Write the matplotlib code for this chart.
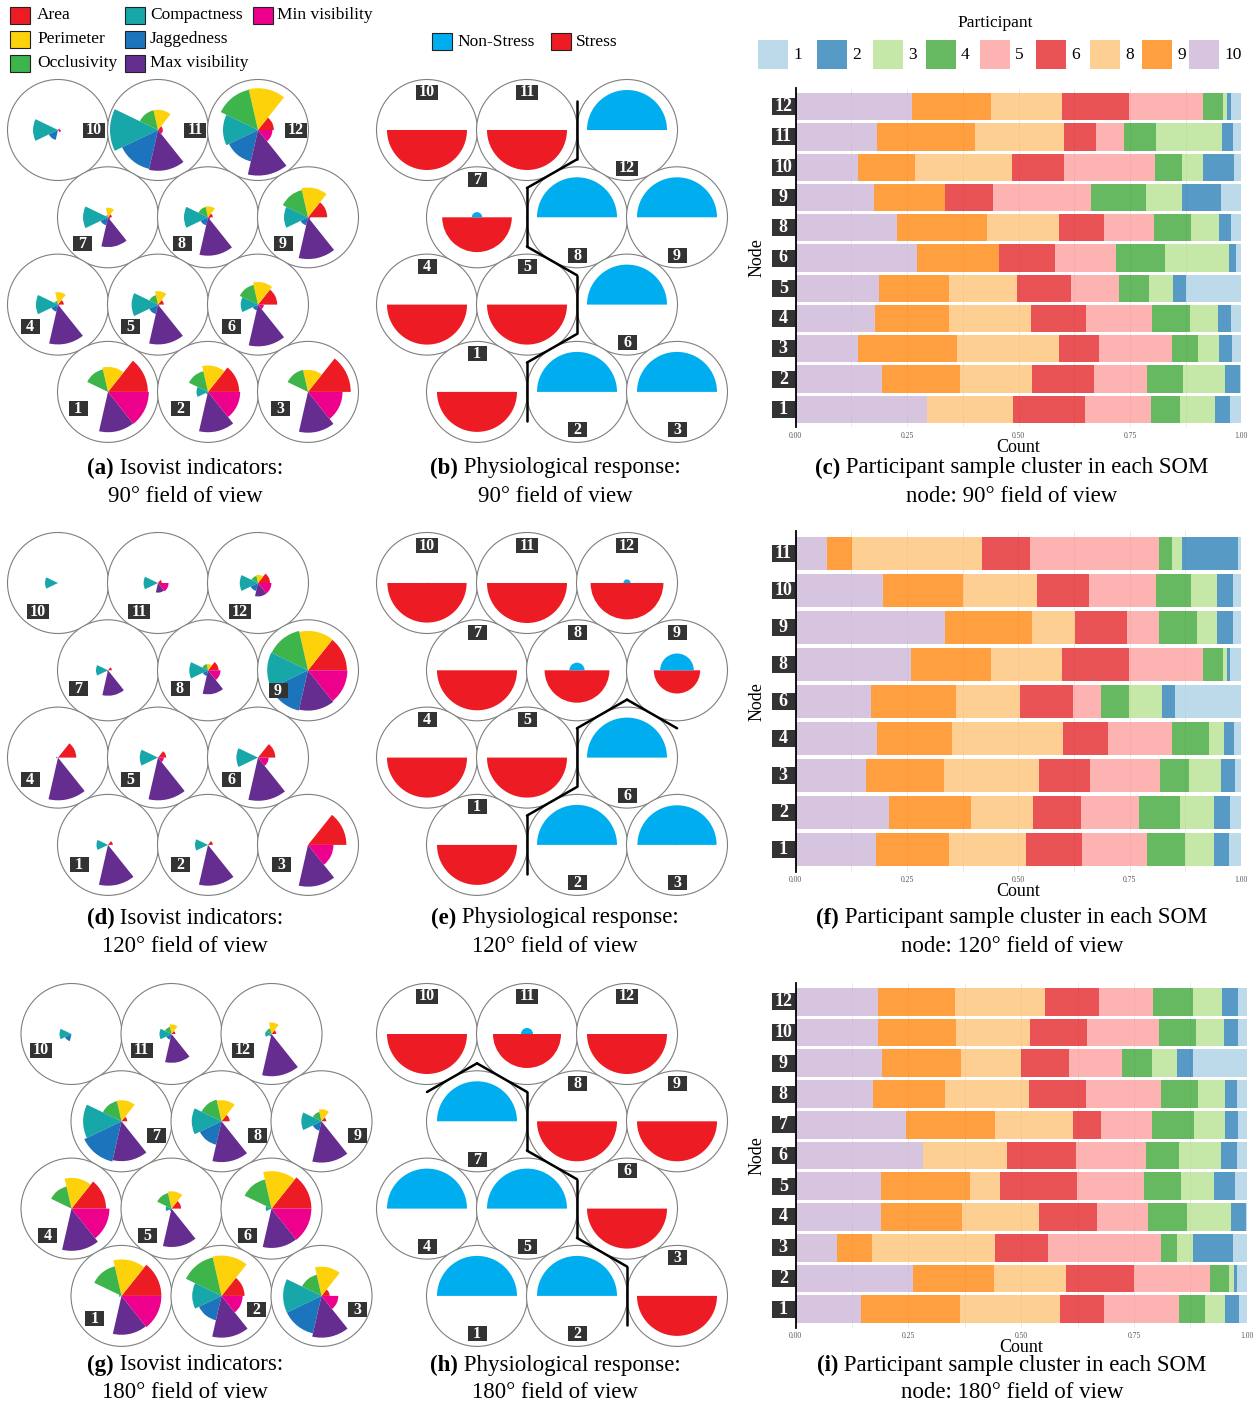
import numpy as np
import matplotlib
matplotlib.use("Agg")
import matplotlib.pyplot as plt
from matplotlib.patches import Circle, Wedge, Rectangle
from matplotlib.collections import LineCollection
from matplotlib.transforms import blended_transform_factory

SERIF = "Liberation Serif"
plt.rcParams["font.family"] = [SERIF, "DejaVu Sans"]

# ---------------------------------------------------------------- data
indicators = ["Area", "Perimeter", "Occlusivity", "Compactness",
              "Jaggedness", "Max visibility", "Min visibility"]
indicator_colors = ["#ED1C24", "#FDD20A", "#3DB54A", "#17A7A8",
                    "#1C75BC", "#662D91", "#EC008C"]

# SOM node arrangement, top row first
som_rows = [[10, 11, 12], [7, 8, 9], [4, 5, 6], [1, 2, 3]]

# normalised isovist indicators per SOM node (order as in `indicators`)
iso_90 = {
    1: [0.83, 0.52, 0.48, 0.00, 0.00, 0.84, 0.85],
    2: [0.65, 0.55, 0.44, 0.24, 0.05, 0.84, 0.67],
    3: [0.89, 0.46, 0.47, 0.00, 0.00, 0.85, 0.72],
    4: [0.12, 0.26, 0.08, 0.46, 0.15, 0.83, 0.03],
    5: [0.12, 0.28, 0.20, 0.55, 0.20, 0.83, 0.03],
    6: [0.40, 0.47, 0.42, 0.36, 0.12, 0.87, 0.12],
    7: [0.08, 0.20, 0.05, 0.52, 0.17, 0.62, 0.05],
    8: [0.10, 0.23, 0.22, 0.50, 0.17, 0.80, 0.05],
    9: [0.40, 0.62, 0.58, 0.50, 0.17, 0.87, 0.05],
    10: [0.04, 0.00, 0.00, 0.52, 0.21, 0.00, 0.06],
    11: [0.10, 0.42, 0.42, 1.00, 0.83, 0.85, 0.10],
    12: [0.33, 0.87, 0.86, 0.73, 0.67, 0.95, 0.30],
}
iso_120 = {
    1: [0.10, 0.00, 0.00, 0.24, 0.00, 0.85, 0.00],
    2: [0.10, 0.00, 0.00, 0.27, 0.00, 0.85, 0.00],
    3: [0.80, 0.00, 0.00, 0.00, 0.00, 0.87, 0.53],
    4: [0.38, 0.00, 0.00, 0.04, 0.00, 0.89, 0.00],
    5: [0.17, 0.00, 0.00, 0.38, 0.00, 0.89, 0.12],
    6: [0.36, 0.00, 0.00, 0.45, 0.00, 0.90, 0.22],
    7: [0.08, 0.00, 0.00, 0.25, 0.03, 0.53, 0.00],
    8: [0.22, 0.13, 0.13, 0.39, 0.12, 0.50, 0.26],
    9: [0.81, 0.82, 0.84, 0.85, 0.86, 0.84, 0.82],
    10: [0.00, 0.00, 0.00, 0.27, 0.00, 0.00, 0.00],
    11: [0.08, 0.00, 0.00, 0.30, 0.00, 0.20, 0.22],
    12: [0.25, 0.17, 0.15, 0.38, 0.17, 0.28, 0.28],
}
iso_180 = {
    1: [0.83, 0.76, 0.63, 0.05, 0.00, 0.81, 0.83],
    2: [0.48, 0.84, 0.82, 0.61, 0.52, 0.87, 0.44],
    3: [0.17, 0.61, 0.45, 0.80, 0.80, 0.87, 0.35],
    4: [0.72, 0.64, 0.47, 0.00, 0.00, 0.88, 0.79],
    5: [0.20, 0.36, 0.33, 0.12, 0.05, 0.80, 0.00],
    6: [0.83, 0.78, 0.62, 0.12, 0.00, 0.82, 0.83],
    7: [0.12, 0.44, 0.43, 0.80, 0.86, 0.83, 0.00],
    8: [0.17, 0.44, 0.46, 0.62, 0.50, 0.85, 0.00],
    9: [0.10, 0.25, 0.20, 0.42, 0.20, 0.86, 0.00],
    10: [0.00, 0.00, 0.00, 0.25, 0.15, 0.00, 0.00],
    11: [0.08, 0.20, 0.15, 0.25, 0.12, 0.60, 0.00],
    12: [0.10, 0.24, 0.12, 0.13, 0.05, 0.88, 0.00],
}

# share of samples labelled "Stress" in each node
stress_90 = {1: 1.0, 2: 0.0, 3: 0.0, 4: 1.0, 5: 1.0, 6: 0.0,
             7: 0.87, 8: 0.0, 9: 0.0, 10: 1.0, 11: 1.0, 12: 0.0}
stress_120 = {1: 1.0, 2: 0.0, 3: 0.01, 4: 1.0, 5: 1.0, 6: 0.0,
              7: 1.0, 8: 0.81, 9: 0.58, 10: 0.99, 11: 1.0, 12: 0.91}
stress_180 = {1: 0.0, 2: 0.0, 3: 1.0, 4: 0.0, 5: 0.0, 6: 1.0,
              7: 0.0, 8: 1.0, 9: 1.0, 10: 1.0, 11: 0.85, 12: 1.0}
stress_colors = {"Non-Stress": "#00AEEF", "Stress": "#ED1C24"}

# participant share within each node (stacking order below)
participants = [1, 2, 3, 4, 5, 6, 8, 9, 10]
participant_colors = {1: "#A6CEE3", 2: "#1F78B4", 3: "#B2DF8A", 4: "#33A02C",
                      5: "#FB9A99", 6: "#E31A1C", 8: "#FDBF6F", 9: "#FF7F00",
                      10: "#CAB2D6"}
stack_order = [10, 9, 8, 6, 5, 4, 3, 2, 1]

share_90 = {
    12: [0.260, 0.179, 0.158, 0.152, 0.166, 0.044, 0.010, 0.007, 0.024],
    11: [0.183, 0.220, 0.198, 0.073, 0.062, 0.073, 0.148, 0.024, 0.019],
    10: [0.139, 0.128, 0.218, 0.116, 0.206, 0.061, 0.046, 0.070, 0.016],
    9: [0.176, 0.160, 0.000, 0.106, 0.220, 0.125, 0.081, 0.087, 0.045],
    8: [0.227, 0.203, 0.162, 0.100, 0.111, 0.084, 0.062, 0.029, 0.022],
    6: [0.273, 0.184, 0.000, 0.124, 0.138, 0.109, 0.144, 0.015, 0.013],
    5: [0.186, 0.159, 0.151, 0.122, 0.107, 0.068, 0.054, 0.029, 0.124],
    4: [0.177, 0.167, 0.184, 0.123, 0.148, 0.085, 0.063, 0.030, 0.023],
    3: [0.139, 0.223, 0.230, 0.088, 0.164, 0.059, 0.048, 0.029, 0.020],
    2: [0.194, 0.175, 0.162, 0.139, 0.118, 0.081, 0.094, 0.035, 0.002],
    1: [0.294, 0.000, 0.194, 0.161, 0.149, 0.065, 0.079, 0.033, 0.025],
}
share_120 = {
    11: [0.070, 0.057, 0.292, 0.107, 0.289, 0.031, 0.021, 0.126, 0.007],
    10: [0.195, 0.181, 0.167, 0.116, 0.149, 0.079, 0.060, 0.034, 0.019],
    9: [0.336, 0.194, 0.097, 0.116, 0.072, 0.086, 0.044, 0.038, 0.017],
    8: [0.260, 0.179, 0.158, 0.152, 0.166, 0.044, 0.010, 0.007, 0.024],
    6: [0.168, 0.191, 0.145, 0.118, 0.064, 0.062, 0.075, 0.029, 0.148],
    4: [0.183, 0.167, 0.250, 0.101, 0.143, 0.085, 0.033, 0.023, 0.015],
    3: [0.157, 0.177, 0.213, 0.115, 0.155, 0.066, 0.073, 0.031, 0.013],
    2: [0.210, 0.184, 0.140, 0.107, 0.131, 0.091, 0.076, 0.036, 0.025],
    1: [0.180, 0.164, 0.173, 0.125, 0.148, 0.084, 0.066, 0.032, 0.028],
}
share_180 = {
    12: [0.182, 0.172, 0.199, 0.120, 0.119, 0.090, 0.064, 0.034, 0.020],
    10: [0.183, 0.172, 0.165, 0.127, 0.159, 0.081, 0.063, 0.030, 0.020],
    9: [0.192, 0.174, 0.134, 0.105, 0.119, 0.066, 0.056, 0.034, 0.120],
    8: [0.171, 0.160, 0.187, 0.125, 0.168, 0.082, 0.058, 0.028, 0.021],
    7: [0.244, 0.199, 0.171, 0.064, 0.111, 0.095, 0.068, 0.028, 0.020],
    6: [0.283, 0.000, 0.185, 0.154, 0.155, 0.073, 0.092, 0.036, 0.022],
    5: [0.189, 0.197, 0.066, 0.171, 0.149, 0.082, 0.074, 0.046, 0.026],
    4: [0.189, 0.179, 0.172, 0.127, 0.115, 0.086, 0.097, 0.034, 0.001],
    3: [0.091, 0.078, 0.274, 0.116, 0.250, 0.037, 0.034, 0.090, 0.030],
    2: [0.261, 0.178, 0.160, 0.151, 0.168, 0.043, 0.010, 0.007, 0.022],
    1: [0.145, 0.219, 0.221, 0.099, 0.166, 0.057, 0.045, 0.031, 0.017],
}

captions = [
    ("(a)", " Isovist indicators:", "90\u00b0 field of view"),
    ("(b)", " Physiological response:", "90\u00b0 field of view"),
    ("(c)", " Participant sample cluster in each SOM", "node: 90\u00b0 field of view"),
    ("(d)", " Isovist indicators:", "120\u00b0 field of view"),
    ("(e)", " Physiological response:", "120\u00b0 field of view"),
    ("(f)", " Participant sample cluster in each SOM", "node: 120\u00b0 field of view"),
    ("(g)", " Isovist indicators:", "180\u00b0 field of view"),
    ("(h)", " Physiological response:", "180\u00b0 field of view"),
    ("(i)", " Participant sample cluster in each SOM", "node: 180\u00b0 field of view"),
]

# ---------------------------------------------------------------- layout
W, H = 1258, 1407
fig = plt.figure(figsize=(W / 100, H / 100), dpi=100)
ax0 = fig.add_axes([0, 0, 1, 1])
ax0.set_xlim(0, W)
ax0.set_ylim(H, 0)
ax0.axis("off")

STEP_X, STEP_Y = 100.0, 87.3
CIRCLE_R = 50.5
ROSE_R = 48.0
SEMI_R = 40.0
BOX_DARK = "#333333"
BAR_ALPHA = 0.75


def node_centres(x0, y0):
    pos = {}
    for r, row in enumerate(som_rows):
        for c, node in enumerate(row):
            pos[node] = (x0 + c * STEP_X + (STEP_X / 2 if r % 2 else 0), y0 + r * STEP_Y)
    return pos


def number_box(x, y, node, w1=19, w2=22, h=15, size=11.5):
    w = w2 if node >= 10 else w1
    ax0.add_patch(Rectangle((x - w / 2, y - h / 2), w, h, fc=BOX_DARK, ec="none", zorder=5))
    ax0.text(x, y + 0.5, str(node), color="white", fontweight="bold", fontsize=size,
             ha="center", va="center", zorder=6)


def draw_circles(pos):
    for node, (cx, cy) in pos.items():
        ax0.add_patch(Circle((cx, cy), CIRCLE_R, fc="white", ec="#7f7f7f", lw=0.8, zorder=1))


def rose_panel(x0, y0, values, offsets):
    pos = node_centres(x0, y0)
    draw_circles(pos)
    n = len(indicators)
    span = 360.0 / n
    for node, (cx, cy) in pos.items():
        for k, v in enumerate(values[node]):
            if v <= 0:
                continue
            # y axis points down, so negative angles run counter-clockwise on screen
            ax0.add_patch(Wedge((cx, cy), v * ROSE_R, -(k + 1) * span, -k * span,
                                fc=indicator_colors[k], ec="none", zorder=2))
        dx, dy = offsets[node]
        number_box(cx + dx, cy + dy, node)


def stress_panel(x0, y0, stress):
    pos = node_centres(x0, y0)
    draw_circles(pos)
    for node, (cx, cy) in pos.items():
        s = stress[node]
        if s > 0:
            ax0.add_patch(Wedge((cx, cy), s * SEMI_R, 0, 180,
                                fc=stress_colors["Stress"], ec="none", zorder=2))
        if 1 - s > 0:
            ax0.add_patch(Wedge((cx, cy), (1 - s) * SEMI_R, 180, 360,
                                fc=stress_colors["Non-Stress"], ec="none", zorder=2))
        number_box(cx, cy + (-38 if s >= 0.5 else 38), node)
    # border between stress and non-stress regions along shared hex edges
    cells = {}
    for r, row in enumerate(som_rows):
        for c, node in enumerate(row):
            cells[(r, c)] = node
    half_edge = STEP_X / np.sqrt(3) / 2
    segs = []
    for (r, c), a in cells.items():
        shift = 1 if r % 2 else 0
        for (r2, c2) in [(r, c + 1), (r + 1, c - 1 + shift), (r + 1, c + shift)]:
            b = cells.get((r2, c2))
            if b is None or (stress[a] >= 0.5) == (stress[b] >= 0.5):
                continue
            p1, p2 = np.array(pos[a]), np.array(pos[b])
            m = (p1 + p2) / 2
            d = (p2 - p1) / np.linalg.norm(p2 - p1)
            perp = np.array([-d[1], d[0]])
            segs.append([m - perp * half_edge, m + perp * half_edge])
    ax0.add_collection(LineCollection(segs, colors="black", linewidths=1.8,
                                      capstyle="round", zorder=4))


def bar_panel(share, left, right, top, bottom):
    ax = fig.add_axes([left / W, 1 - bottom / H, (right - left) / W, (bottom - top) / H])
    nodes = list(share.keys())[::-1]          # node 1 at the bottom
    ypos = np.arange(len(nodes))
    lefts = np.zeros(len(nodes))
    for j, p in enumerate(stack_order):
        vals = np.array([share[n][j] for n in nodes])
        ax.barh(ypos, vals, left=lefts, height=0.9, color=participant_colors[p],
                alpha=BAR_ALPHA, lw=0, zorder=2)
        lefts += vals
    ax.set_xlim(0, 1)
    ax.set_ylim(-0.6, len(nodes) - 0.4)
    ax.set_xticks([0, 0.25, 0.5, 0.75, 1.0])
    ax.set_xticklabels(["0.00", "0.25", "0.50", "0.75", "1.00"])
    ax.set_xticks([0.125, 0.375, 0.625, 0.875], minor=True)
    ax.grid(axis="x", which="both", color="#e6e6e6", lw=0.6, zorder=0)
    ax.set_axisbelow(True)
    ax.tick_params(axis="x", which="both", length=0, labelsize=5.5,
                   labelcolor="#555555", pad=3)
    ax.set_yticks([])
    for s in ["top", "right", "bottom"]:
        ax.spines[s].set_visible(False)
    ax.spines["left"].set_color("black")
    ax.spines["left"].set_linewidth(1.3)
    # node number boxes on the y axis
    tr = blended_transform_factory(ax.transAxes, ax.transData)
    ax_w = right - left
    unit_px = (bottom - top) / (len(nodes) + 0.2)
    bw = 23 / ax_w
    bh = 17 / unit_px
    for y, n in zip(ypos, nodes):
        ax.add_patch(Rectangle((-bw - 0.002, y - bh / 2), bw, bh, transform=tr,
                               fc=BOX_DARK, ec="none", clip_on=False))
        ax.text(-bw / 2 - 0.002, y, str(n), transform=tr, color="white",
                fontweight="bold", fontsize=13, ha="center", va="center", clip_on=False)
    ax0.text(757, (top + bottom) / 2, "Node", rotation=90, fontsize=13,
             ha="center", va="center")
    ax0.text((left + right) / 2, bottom + 20, "Count", fontsize=13,
             ha="center", va="center")
    return ax


# ---------------------------------------------------------------- panels
off_90 = {10: (36, 0), 11: (37, 0), 12: (38, 0), 7: (-26, 26), 8: (-26, 26), 9: (-25, 26),
          4: (-28, 22), 5: (-28, 22), 6: (-27, 22), 1: (-30, 17), 2: (-28, 17), 3: (-28, 17)}
off_120 = {10: (-20, 28), 11: (-19, 28), 12: (-18, 28), 7: (-30, 18), 8: (-28, 18), 9: (-30, 20),
           4: (-28, 22), 5: (-28, 22), 6: (-27, 22), 1: (-29, 20), 2: (-28, 20), 3: (-27, 20)}
off_180 = {10: (-31, 16), 11: (-30, 16), 12: (-29, 16), 7: (35, 14), 8: (36, 14), 9: (36, 14),
           4: (-24, 27), 5: (-24, 27), 6: (-24, 27), 1: (-27, 23), 2: (35, 14), 3: (36, 14)}

rose_panel(58, 130, iso_90, off_90)
rose_panel(58, 583, iso_120, off_120)
rose_panel(71.5, 1034, iso_180, off_180)

stress_panel(427, 130, stress_90)
stress_panel(427, 583, stress_120)
stress_panel(427, 1034, stress_180)

bar_panel(share_90, 795.7, 1241.3, 88.5, 427.5)
bar_panel(share_120, 795.7, 1241.0, 531.5, 871.5)
bar_panel(share_180, 795.7, 1246.7, 983.4, 1327.6)

# ---------------------------------------------------------------- legends
leg_cols = [(10, 37), (125, 150), (253, 277)]
leg_rows = [15, 39, 63]
for i, (name, col) in enumerate(zip(indicators, indicator_colors)):
    c, r = divmod(i, 3)
    px, tx = leg_cols[c]
    y = leg_rows[r]
    ax0.add_patch(Rectangle((px, y - 8.5), 20, 17, fc=col, ec="#222222", lw=0.8))
    ax0.text(tx, y, name, fontsize=12.5, ha="left", va="center")

for (name, col), px in zip(stress_colors.items(), [432, 551]):
    ax0.add_patch(Rectangle((px, 33), 20, 17, fc=col, ec="#222222", lw=0.8))
    ax0.text(px + 25, 41.5, name, fontsize=12.5, ha="left", va="center")

ax0.text(995, 23, "Participant", fontsize=12.5, ha="center", va="center")
legend_x = [758, 817, 873, 926, 980, 1036, 1090, 1142, 1189]
for p, px in zip(participants, legend_x):
    ax0.add_patch(Rectangle((px, 40), 30, 29, fc=participant_colors[p], alpha=BAR_ALPHA, ec="none"))
    ax0.text(px + 35, 55, str(p), fontsize=12.5, ha="left", va="center")

# ---------------------------------------------------------------- captions
renderer = fig.canvas.get_renderer()
cap_x = [185, 555, 1012]
cap_y = [468, 918, 1365]
for i, (bold, rest, line2) in enumerate(captions):
    cx, cy = cap_x[i % 3], cap_y[i // 3]
    t1 = ax0.text(0, cy, bold, fontsize=16.5, fontweight="bold", ha="left", va="center")
    t2 = ax0.text(0, cy, rest, fontsize=16.5, ha="left", va="center")
    w1 = t1.get_window_extent(renderer).width
    w2 = t2.get_window_extent(renderer).width
    x_left = cx - (w1 + w2) / 2
    t1.set_x(x_left)
    t2.set_x(x_left + w1)
    ax0.text(cx, cy + 28, line2, fontsize=16.5, ha="center", va="center")

fig.savefig("out.png", dpi=100, facecolor="white")
